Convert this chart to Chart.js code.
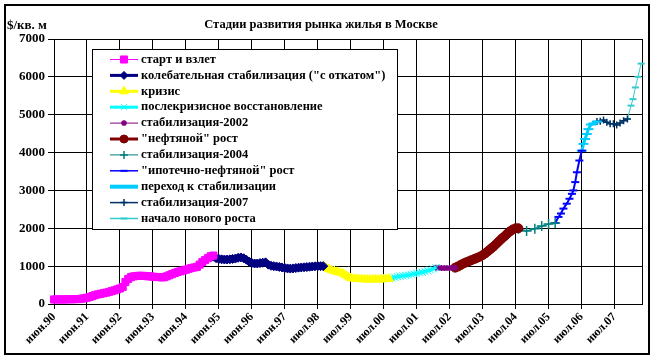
<!DOCTYPE html>
<html>
<head>
<meta charset="utf-8">
<script src="https://cdn.jsdelivr.net/npm/chart.js@4/dist/chart.umd.min.js"></script>
<style>
  html, body { margin: 0; padding: 0; background: #fff; }
</style>
</head>
<body>
<canvas id="rynok" width="656" height="360"></canvas>
<script>
// Подписи оси X (метка каждые 12 месяцев)
const tickLabels = ['июн.90', 'июн.91', 'июн.92', 'июн.93', 'июн.94', 'июн.95', 'июн.96', 'июн.97',
  'июл.98', 'июл.99', 'июл.00', 'июл.01', 'июл.02', 'июл.03', 'июл.04', 'июл.05', 'июл.06', 'июл.07'];

// Помесячные ряды: номер первого месяца (0 = июн.90) и цены, $/кв. м
const startFrom = 0;
const startPrices = [120, 120, 120, 120, 120, 125, 125, 125, 130, 130,
  140, 150, 165, 185, 210, 235, 255, 270, 285, 300,
  320, 340, 360, 385, 410, 450, 580, 660, 710, 730,
  740, 745, 745, 740, 735, 730, 720, 715, 710, 705,
  705, 730, 760, 790, 820, 845, 865, 885, 905, 930,
  950, 965, 980, 1040, 1110, 1160, 1210, 1260, 1280];

const swingFrom = 58;
const swingPrices = [1250, 1210, 1190, 1180, 1175, 1175, 1180, 1190, 1200, 1220,
  1230, 1210, 1170, 1120, 1080, 1070, 1070, 1080, 1090, 1100,
  1040, 1010, 1000, 990, 980, 965, 950, 940, 935, 940,
  950, 960, 965, 970, 975, 985, 990, 995, 1000, 1000,
  1000];

const crisisFrom = 98;
const crisisPrices = [1000, 960, 920, 890, 870, 850, 830, 810, 770, 720,
  685, 670, 665, 660, 655, 650, 650, 650, 650, 650,
  650, 650, 655, 660, 670];

const recoveryFrom = 122;
const recoveryPrices = [670, 690, 705, 720, 735, 745, 755, 765, 780, 795,
  810, 825, 840, 860, 880, 900, 930, 960];

const stab2002From = 139;
const stab2002Prices = [960, 955, 950, 950, 950, 950, 955, 960];

const oilFrom = 146;
const oilPrices = [960, 990, 1030, 1070, 1100, 1130, 1160, 1190, 1220, 1250,
  1290, 1340, 1400, 1460, 1520, 1590, 1660, 1730, 1790, 1860,
  1920, 1970, 2000, 2000];

// Неравномерные ряды: месяц и цена
const stab2004Months = [169, 172, 175, 177.5, 180, 182.4];
const stab2004Prices = [1990, 1930, 1990, 2060, 2110, 2140];

const mortgageMonths = [182.4, 183.6, 184.5, 185.4, 186.6, 187.6, 188.5, 189, 189.7, 190.3, 191.2, 192.1];
const mortgagePrices = [2140, 2300, 2390, 2520, 2650, 2780, 2910, 3000, 3220, 3480, 3790, 4050];

const transitionMonths = [192.1, 192.7, 193.3, 193.9, 194.5, 195.4, 196.3, 197.6];
const transitionPrices = [4050, 4230, 4360, 4490, 4620, 4740, 4770, 4820];

const stab2007Months = [197.6, 198.8, 200, 201.2, 202.4, 203.6, 204.8, 206, 207.3, 208.7];
const stab2007Prices = [4820, 4830, 4860, 4800, 4760, 4760, 4730, 4780, 4840, 4890];

const newGrowthMonths = [208.7, 210, 210.7, 211.6, 212.5, 213.7];
const newGrowthPrices = [4890, 5240, 5410, 5720, 6000, 6350];

const FONT = '"Liberation Serif", "Times New Roman", serif';

function monthly(from, prices) {
  return prices.map((p, i) => ({ x: from + i, y: p }));
}
function pairs(months, prices) {
  return months.map((m, i) => ({ x: m, y: prices[i] }));
}

function serie(label, data, color, width, style, radius, pbw) {
  return {
    label: label,
    data: data,
    borderColor: color,
    backgroundColor: color,
    borderWidth: width,
    pointStyle: style,
    pointRadius: radius,
    pointHoverRadius: radius,
    pointBorderWidth: pbw,
    pointBackgroundColor: color,
    pointBorderColor: color,
    tension: 0,
    clip: false
  };
}

const datasets = [
  serie('старт и взлет', monthly(startFrom, startPrices), '#FF00FF', 1, 'rect', 5, 1),
  serie('колебательная стабилизация ("с откатом")', monthly(swingFrom, swingPrices), '#000080', 3, 'rectRot', 4.5, 1),
  serie('кризис', monthly(crisisFrom, crisisPrices), '#FFFF00', 3, 'triangle', 5, 1),
  serie('послекризисное восстановление', monthly(recoveryFrom, recoveryPrices), '#00FFFF', 3, 'crossRot', 5, 1),
  serie('стабилизация-2002', monthly(stab2002From, stab2002Prices), '#800080', 1, 'star', 3, 1.5),
  serie('"нефтяной" рост', monthly(oilFrom, oilPrices), '#800000', 3, 'circle', 4.5, 1),
  serie('стабилизация-2004', pairs(stab2004Months, stab2004Prices), '#008080', 1.5, 'cross', 5, 1.5),
  serie('"ипотечно-нефтяной" рост', pairs(mortgageMonths, mortgagePrices), '#0000FF', 2, 'line', 4, 2),
  serie('переход к стабилизации', pairs(transitionMonths, transitionPrices), '#00CCFF', 3, 'line', 5, 2),
  serie('стабилизация-2007', pairs(stab2007Months, stab2007Prices), '#003366', 1.5, 'cross', 3.5, 1.5),
  serie('начало нового роста', pairs(newGrowthMonths, newGrowthPrices), '#33CCCC', 1, 'line', 3.5, 2)
];

// ширина линии и размер значка в легенде
const legendLineWidths = [1, 3, 3, 3, 1, 3, 1, 1.5, 4, 1.5, 1.5];
const legendRadius = [5, 4, 5, 4, 3, 4, 4, 3.5, 3.5, 3.5, 3.5];

// Рамки, подпись оси Y и легенда поверх графика
const decor = {
  id: 'decor',
  beforeDraw(chart) {
    const ctx = chart.ctx;
    ctx.save();
    ctx.fillStyle = '#fff';
    ctx.fillRect(0, 0, chart.width, chart.height);
    ctx.restore();
  },
  beforeDatasetsDraw(chart) {
    const ctx = chart.ctx, a = chart.chartArea;
    ctx.save();
    ctx.strokeStyle = '#000';
    ctx.lineWidth = 1;
    ctx.strokeRect(a.left + 0.5, a.top + 0.5, a.right - a.left, a.bottom - a.top);
    ctx.restore();
  },
  afterDraw(chart) {
    const ctx = chart.ctx;
    ctx.save();
    // внешняя рамка
    ctx.strokeStyle = '#000';
    ctx.lineWidth = 2;
    ctx.strokeRect(5, 5, 644, 349);

    // подпись оси Y
    ctx.fillStyle = '#000';
    ctx.font = 'bold 13px ' + FONT;
    ctx.textBaseline = 'middle';
    ctx.textAlign = 'left';
    ctx.fillText('$/кв. м', 7, 26);

    // легенда
    const lx = 92, ly = 49, lw = 305, lh = 180;
    ctx.fillStyle = '#fff';
    ctx.fillRect(lx, ly, lw, lh);
    ctx.lineWidth = 1;
    ctx.strokeStyle = '#000';
    ctx.strokeRect(lx + 0.5, ly + 0.5, lw, lh);
    ctx.font = 'bold 12.5px ' + FONT;
    chart.data.datasets.forEach((ds, i) => {
      const y = 59.5 + i * 15.9;
      ctx.strokeStyle = ds.borderColor;
      ctx.lineWidth = legendLineWidths[i];
      ctx.beginPath();
      ctx.moveTo(110, y);
      ctx.lineTo(138, y);
      ctx.stroke();
      ctx.fillStyle = ds.pointBackgroundColor;
      ctx.strokeStyle = ds.pointBorderColor;
      ctx.lineWidth = ds.pointBorderWidth;
      Chart.helpers.drawPoint(ctx, {
        pointStyle: ds.pointStyle, radius: legendRadius[i], rotation: 0, borderWidth: ds.pointBorderWidth
      }, 124, y);
      ctx.fillStyle = '#000';
      ctx.fillText(ds.label, 141, y);
    });
    ctx.restore();
  }
};

new Chart(document.getElementById('rynok'), {
  type: 'line',
  data: { datasets: datasets },
  options: {
    responsive: false,
    animation: false,
    layout: { padding: { left: 0, right: 14, top: 0, bottom: 0 } },
    plugins: {
      legend: { display: false },
      tooltip: { enabled: false },
      title: {
        display: true,
        text: 'Стадии развития рынка жилья в Москве',
        color: '#000',
        font: { family: FONT, size: 12.5, weight: 'bold' },
        padding: { top: 17, bottom: 7 }
      }
    },
    scales: {
      x: {
        type: 'linear',
        min: 0,
        max: 214,
        afterBuildTicks: s => { s.ticks = tickLabels.map((t, i) => ({ value: i * 12 })); },
        afterFit: s => { s.height = 56; },
        ticks: {
          autoSkip: false,
          minRotation: 45,
          maxRotation: 45,
          padding: 1,
          color: '#000',
          font: { family: FONT, size: 12, weight: 'bold' },
          callback: (v) => tickLabels[Math.round(v / 12)]
        },
        grid: { color: '#000', lineWidth: 1, tickLength: 5 },
        border: { color: '#000', width: 1 }
      },
      y: {
        min: 0,
        max: 7000,
        afterFit: s => { s.width = 54; },
        ticks: {
          stepSize: 1000,
          padding: 3,
          color: '#000',
          font: { family: FONT, size: 13, weight: 'bold' },
          callback: (v) => String(v)
        },
        grid: { color: '#000', lineWidth: 1, tickLength: 6 },
        border: { color: '#000', width: 1 }
      }
    }
  },
  plugins: [decor]
});
</script>
</body>
</html>
